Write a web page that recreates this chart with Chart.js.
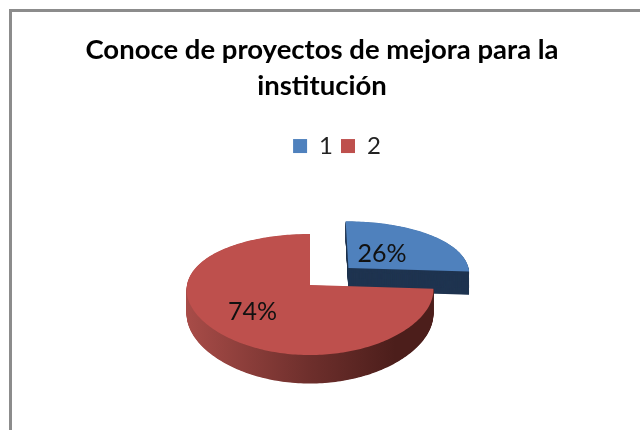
<!DOCTYPE html>
<html>
<head>
<meta charset="utf-8">
<script src="https://cdn.jsdelivr.net/npm/chart.js@4"></script>
<style>
  html, body { margin: 0; padding: 0; background: #fff; overflow: hidden; }
  #wrap { position: relative; width: 640px; height: 430px; }
  #frame { position: absolute; left: 9px; top: 9px; width: 640px; height: 430px;
           border-left: 3px solid #8c8c8c; border-top: 3px solid #8c8c8c; }
  canvas { position: absolute; left: 0; top: 0; }
</style>
</head>
<body>
<div id="wrap">
  <canvas id="chart" width="640" height="430"></canvas>
  <div id="frame"></div>
</div>
<script>
const titleLines = ["Conoce de proyectos de mejora para la", "institución"];
const categories = ["1", "2"];
const values = [26, 74];

const faceColors = ["#4f81bd", "#be504d"];
const FONT = "Lato, 'Open Sans', sans-serif";

// Kippung der Scheibe: Kreis aus Chart.js wird perspektivisch abgebildet
const TILT = 0.48, PERSP_Y = 0.157, PERSP_X = 0.08, DEPTH = 24;
const LABEL_R = [0.4, 0.62];

function project(arc, u, v, h) {
  const r = arc.outerRadius;
  return [arc.x + r * u / (1 - PERSP_X * v), arc.y + (r * TILT * v + h) / (1 - PERSP_Y * v)];
}

function slicePath(ctx, arc, h) {
  const r = arc.outerRadius, off = arc.options.offset || 0;
  const mid = (arc.startAngle + arc.endAngle) / 2;
  const ou = Math.cos(mid) * off / r, ov = Math.sin(mid) * off / r;
  ctx.beginPath();
  ctx.moveTo(...project(arc, ou, ov, h));
  const n = Math.ceil((arc.endAngle - arc.startAngle) / 0.02);
  for (let i = 0; i <= n; i++) {
    const a = arc.startAngle + (arc.endAngle - arc.startAngle) * i / n;
    ctx.lineTo(...project(arc, ou + Math.cos(a), ov + Math.sin(a), h));
  }
  ctx.closePath();
}

const tiltedPie = {
  id: "tiltedPie",
  afterLayout(chart) {
    // Titel und Legende sitzen im Original nicht über der Tortenmitte
    chart.titleBlock.left += 12; chart.titleBlock.right += 12;
    chart.legend.left += 27; chart.legend.right += 27;
  },
  beforeDatasetsDraw(chart) {
    const ctx = chart.ctx;
    const arcs = chart.getDatasetMeta(0).data;
    const sides = [
      "#1f3450",
      (() => {
        const g = ctx.createLinearGradient(arcs[1].x - 124, 0, arcs[1].x + 122, 0);
        g.addColorStop(0, "#a84c48");
        g.addColorStop(0.5, "#6e2f2c");
        g.addColorStop(0.85, "#4c1e1b");
        g.addColorStop(1, "#4c1e1b");
        return g;
      })(),
    ];
    // blau zuerst, rot liegt vorne
    [0, 1].forEach((i) => {
      const arc = arcs[i];
      ctx.fillStyle = sides[i];
      for (let h = DEPTH; h > 0; h -= 0.5) { slicePath(ctx, arc, h); ctx.fill(); }
      ctx.fillStyle = faceColors[i];
      slicePath(ctx, arc, 0);
      ctx.fill();
    });
    const total = values.reduce((a, b) => a + b, 0);
    ctx.fillStyle = "#111";
    ctx.font = "25px " + FONT;
    ctx.textAlign = "center";
    ctx.textBaseline = "middle";
    arcs.forEach((arc, i) => {
      const off = arc.options.offset || 0, r = arc.outerRadius;
      const mid = (arc.startAngle + arc.endAngle) / 2;
      const d = off / r + LABEL_R[i];
      const p = project(arc, Math.cos(mid) * d, Math.sin(mid) * d, 0);
      ctx.fillText(Math.round(values[i] / total * 100) + "%", p[0], p[1]);
    });
    return false;
  },
};

new Chart(document.getElementById("chart"), {
  type: "pie",
  data: {
    labels: categories,
    datasets: [{ data: values, backgroundColor: faceColors, borderWidth: 0, offset: [54, 0] }],
  },
  options: {
    responsive: false, animation: false, radius: 123,
    layout: { padding: { left: 0, right: 20, top: 0, bottom: 28 } },
    plugins: {
      tooltip: { enabled: false },
      title: {
        display: true, text: titleLines, color: "#000",
        font: { family: FONT, size: 27.5, weight: "bold", lineHeight: 1.31 },
        padding: { top: 32, bottom: 22 },
      },
      legend: {
        position: "top",
        labels: { color: "#222", boxWidth: 14, boxHeight: 14, padding: 8, font: { family: FONT, size: 24 } },
      },
    },
  },
  plugins: [tiltedPie],
});
</script>
</body>
</html>
